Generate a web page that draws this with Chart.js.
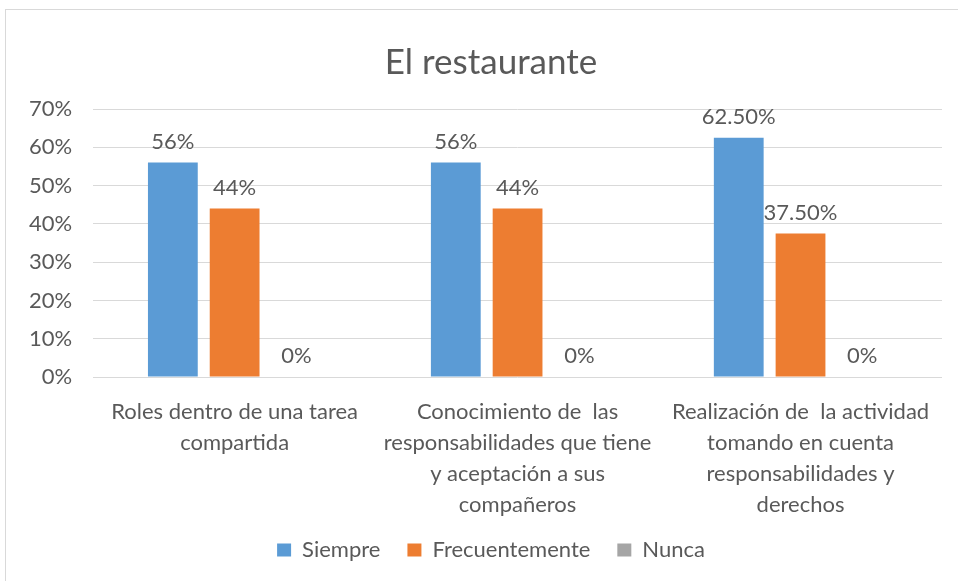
<!DOCTYPE html>
<html><head><meta charset="utf-8">
<script src="https://cdn.jsdelivr.net/npm/chart.js@4/dist/chart.umd.min.js"></script>
<style>html,body{margin:0;padding:0;background:#fff;}#wrap{position:relative;width:958px;height:581px;}</style>
</head><body><div id="wrap"><canvas id="c" width="958" height="581"></canvas></div>
<script>
const categories = [
  ["Roles dentro de una tarea", "compartida"],
  ["Conocimiento de  las", "responsabilidades que tiene", "y aceptación a sus", "compañeros"],
  ["Realización de  la actividad", "tomando en cuenta", "responsabilidades y", "derechos"]
];
const seriesNames = ["Siempre", "Frecuentemente", "Nunca"];
const siempre = [0.56, 0.56, 0.625];
const frecuentemente = [0.44, 0.44, 0.375];
const nunca = [0, 0, 0];
const siempreLabels = ["56%", "56%", "62.50%"];
const frecuentementeLabels = ["44%", "44%", "37.50%"];
const nuncaLabels = ["0%", "0%", "0%"];
const yTicks = [0, 0.1, 0.2, 0.3, 0.4, 0.5, 0.6, 0.7];
const colors = ["#5B9BD5", "#ED7D31", "#A5A5A5"];
const FONT = "Lato, 'Open Sans', sans-serif";
const TXT = "#595959";

const borderPlugin = {
  id: 'border',
  beforeDraw(chart) {
    const ctx = chart.ctx;
    ctx.save();
    ctx.strokeStyle = "#d9d9d9";
    ctx.lineWidth = 1;
    ctx.strokeRect(5.5, 9.5, 1000, 1000);
    ctx.restore();
  },
  afterLayout(chart) {
    // let the category labels run below the scale box without clipping
    chart.scales.x.bottom = chart.height;
    // the original chart frame is centred a little right of the window centre
    const shift = 16;
    if (chart.titleBlock) { chart.titleBlock.left += shift; chart.titleBlock.right += shift; }
    if (chart.legend) { chart.legend.left += shift; chart.legend.right += shift; }
  }
};
const dataLabelPlugin = {
  id: 'dlabels',
  afterDatasetsDraw(chart) {
    const ctx = chart.ctx;
    ctx.save();
    ctx.font = "22px " + FONT;
    ctx.fillStyle = TXT;
    ctx.textAlign = "center";
    ctx.textBaseline = "middle";
    chart.data.datasets.forEach((ds, i) => {
      const meta = chart.getDatasetMeta(i);
      meta.data.forEach((bar, j) => {
        ctx.fillText(ds.valueLabels[j], bar.x, bar.y - 21);
      });
    });
    ctx.restore();
  }
};

new Chart(document.getElementById('c'), {
  type: 'bar',
  data: {
    labels: categories,
    datasets: [
      {label: seriesNames[0], data: siempre, valueLabels: siempreLabels, backgroundColor: colors[0]},
      {label: seriesNames[1], data: frecuentemente, valueLabels: frecuentementeLabels, backgroundColor: colors[1]},
      {label: seriesNames[2], data: nunca, valueLabels: nuncaLabels, backgroundColor: colors[2]}
    ]
  },
  options: {
    responsive: false,
    animation: false,
    devicePixelRatio: 1,
    layout: {padding: {left: 8, right: 16, top: 0, bottom: 10}},
    datasets: {bar: {barPercentage: 0.806, categoryPercentage: 0.655}},
    plugins: {
      title: {display: true, text: "El restaurante", color: TXT, font: {family: FONT, size: 35, weight: 'normal'}, padding: {top: 42, bottom: 25}},
      legend: {position: 'bottom', labels: {color: TXT, font: {family: FONT, size: 22}, boxWidth: 14, boxHeight: 13, padding: 27}},
      tooltip: {enabled: false}
    },
    scales: {
      x: {
        grid: {display: false},
        border: {display: false},
        afterFit(scale) { scale.height = 135; },
        ticks: {color: TXT, font: {family: FONT, size: 22, lineHeight: 1.41}, maxRotation: 0, autoSkip: false, padding: 11}
      },
      y: {
        min: 0, max: 0.7,
        afterBuildTicks(axis) { axis.ticks = yTicks.map(v => ({value: v})); },
        grid: {color: "#d9d9d9", lineWidth: 1, drawTicks: false},
        border: {display: false},
        ticks: {color: TXT, font: {family: FONT, size: 22}, padding: 21, callback: v => Math.round(v * 100) + "%"}
      }
    }
  },
  plugins: [borderPlugin, dataLabelPlugin]
});
</script></body></html>
